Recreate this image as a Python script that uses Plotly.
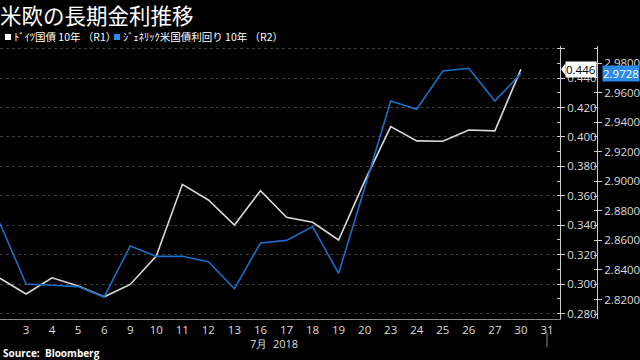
import plotly.graph_objects as go

# ---- data ----
days = [2, 3, 4, 5, 6, 9, 10, 11, 12, 13, 16, 17, 18, 19, 20, 23, 24, 25, 26, 27, 30, 31]
de_10y = [0.304, 0.2933, 0.3043, 0.2987, 0.2914, 0.2998, 0.3191, 0.3678, 0.3572, 0.3402,
          0.3635, 0.3454, 0.3420, 0.3300, 0.3700, 0.4070, 0.3973, 0.3971, 0.4047, 0.4041,
          0.446, None]
us_10y = [2.8716, 2.8305, 2.8296, 2.8287, 2.8217, 2.8562, 2.8492, 2.8492, 2.8456, 2.8273,
          2.8582, 2.8600, 2.8693, 2.8377, 2.8954, 2.9543, 2.9487, 2.9746, 2.9764, 2.9543,
          2.9728, None]
r1_ticks = [0.28, 0.30, 0.32, 0.34, 0.36, 0.38, 0.40, 0.42, 0.44, 0.46]
r2_ticks = [2.82, 2.84, 2.86, 2.88, 2.90, 2.92, 2.94, 2.96, 2.98]
grid_days = [6, 13, 20, 31]
title = "米欧の長期金利推移"
name_de = "ﾄﾞｲﾂ国債 10年 （R1）"
name_us = "ｼﾞｪﾈﾘｯｸ米国債利回り 10年 （R2）"
month_label = "7月  2018"
source = "Source:  Bloomberg"

WHITE_LINE = "#d9d9d9"
BLUE_LINE = "#1b6ec6"
BLUE_BOX = "#2a8ae8"
CJK = "Noto Sans CJK JP"
NUM = "Open Sans"

W, H, T, B = 640, 360, 46, 41
def fx(p):
    return p / W
def fy(p):
    return (H - B - p) / (H - T - B)

xi = list(range(len(days)))

fig = go.Figure()
fig.add_trace(go.Scatter(x=xi, y=de_10y, mode="lines", line=dict(color=WHITE_LINE, width=1.6),
                         name=name_de, yaxis="y", showlegend=False))
fig.add_trace(go.Scatter(x=xi, y=us_10y, mode="lines", line=dict(color=BLUE_LINE, width=1.6),
                         name=name_us, yaxis="y2", showlegend=False))

grid_idx = [days.index(d) for d in grid_days]

fig.update_layout(
    width=W, height=H,
    margin=dict(l=0, r=0, t=T, b=B),
    paper_bgcolor="#000000", plot_bgcolor="#000000",
    font=dict(family=NUM, color="#dddddd", size=11.5),
    xaxis=dict(domain=[0, fx(560)], range=[0, len(days) - 0.5],
               tickvals=xi[1:], ticktext=[str(d) for d in days[1:]],
               showgrid=False, zeroline=False, showline=True, linecolor="#8a8a8a",
               ticks="", tickfont=dict(size=11.5, color="#dddddd", family=NUM)),
    xaxis2=dict(overlaying="x", anchor="y", range=[0, len(days) - 0.5], domain=[0, fx(560)],
                tickvals=grid_idx, showticklabels=False, showgrid=True,
                gridcolor="#3c3c3c", griddash="dot", gridwidth=1, zeroline=False, ticks=""),
    yaxis=dict(side="right", anchor="x", range=[0.2763, 0.4618],
               tickvals=r1_ticks, ticktext=[f"{v:.3f}" for v in r1_ticks[:-1]] + [""],
               showgrid=True, gridcolor="#3c3c3c", griddash="dot", gridwidth=1,
               zeroline=False, showline=True, linecolor="#cccccc", linewidth=1,
               ticks="outside", ticklen=4, tickcolor="#cccccc",
               tickfont=dict(size=11.5, color="#dddddd", family=NUM),
               minor=dict(dtick=0.01, ticks="inside", ticklen=3, tickcolor="#cccccc", showgrid=False)),
    yaxis2=dict(overlaying="y", side="right", anchor="free", position=fx(597),
                range=[2.8068, 2.9915], tickvals=r2_ticks, ticktext=[f"{v:.4f}" for v in r2_ticks],
                showgrid=False, zeroline=False, showline=True, linecolor="#cccccc", linewidth=1,
                ticks="outside", ticklen=4, tickcolor="#cccccc",
                tickfont=dict(size=11.5, color="#dddddd", family=NUM),
                minor=dict(dtick=0.01, ticks="inside", ticklen=3, tickcolor="#cccccc", showgrid=False)),
    showlegend=False,
)

ann = []
ann.append(dict(text=title, xref="paper", yref="paper", x=fx(-1), y=fy(-2), xanchor="left", yanchor="top",
                showarrow=False, borderpad=0, font=dict(family=CJK, size=21.5, color="#ffffff")))
ann.append(dict(text=name_de, xref="paper", yref="paper", x=fx(12), y=fy(37), xanchor="left", yanchor="middle",
                showarrow=False, font=dict(family=CJK, size=10.5, color="#ffffff")))
ann.append(dict(text=name_us, xref="paper", yref="paper", x=fx(121), y=fy(37), xanchor="left", yanchor="middle",
                showarrow=False, font=dict(family=CJK, size=10.5, color="#ffffff")))
ann.append(dict(text=month_label, xref="paper", yref="paper", x=fx(274), y=fy(343.5), xanchor="center", yanchor="middle",
                showarrow=False, borderpad=0, font=dict(family=NUM, size=11, color="#dddddd")))
ann.append(dict(text="<b>" + source + "</b>", xref="paper", yref="paper", x=fx(2), y=fy(353), xanchor="left", yanchor="middle",
                showarrow=False, borderpad=0, font=dict(family=NUM, size=10, color="#ffffff")))
last_de = [v for v in de_10y if v is not None][-1]
last_us = [v for v in us_10y if v is not None][-1]
ann.append(dict(text=f"{last_de:.3f}", xref="paper", yref="y", x=fx(565), y=last_de, xanchor="left", yanchor="middle",
                showarrow=False, bgcolor="#ffffff", borderpad=0,
                font=dict(family=NUM, size=11.5, color="#000000")))
ann.append(dict(text=f"{last_us:.4f}", xref="paper", yref="y2", x=fx(640), y=last_us, xanchor="right", yanchor="middle",
                showarrow=False, bgcolor=BLUE_BOX, borderpad=0,
                font=dict(family=NUM, size=11.5, color="#ffffff")))
fig.update_layout(annotations=ann)

shapes = []
# legend squares
shapes.append(dict(type="rect", xref="paper", yref="paper", x0=fx(5), x1=fx(11), y0=fy(40), y1=fy(34),
                   fillcolor="#ffffff", line=dict(width=0)))
shapes.append(dict(type="rect", xref="paper", yref="paper", x0=fx(114), x1=fx(120), y0=fy(40), y1=fy(34),
                   fillcolor=BLUE_BOX, line=dict(width=0)))
# pointer of last-value label
shapes.append(dict(type="path", xref="paper", yref="y",
                   path=f"M {fx(561)} {last_de} L {fx(565.5)} {last_de + 0.004} L {fx(565.5)} {last_de - 0.004} Z",
                   fillcolor="#ffffff", line=dict(width=0)))
# month separator tick
shapes.append(dict(type="line", xref="x", yref="paper", x0=len(days) - 1, x1=len(days) - 1,
                   y0=fy(333), y1=fy(347), line=dict(color="#888888", width=1)))
fig.update_layout(shapes=shapes)

fig.write_html("out.html", config={"displayModeBar": False},
               post_script="document.body.style.margin='0';document.body.style.overflow='hidden';")
